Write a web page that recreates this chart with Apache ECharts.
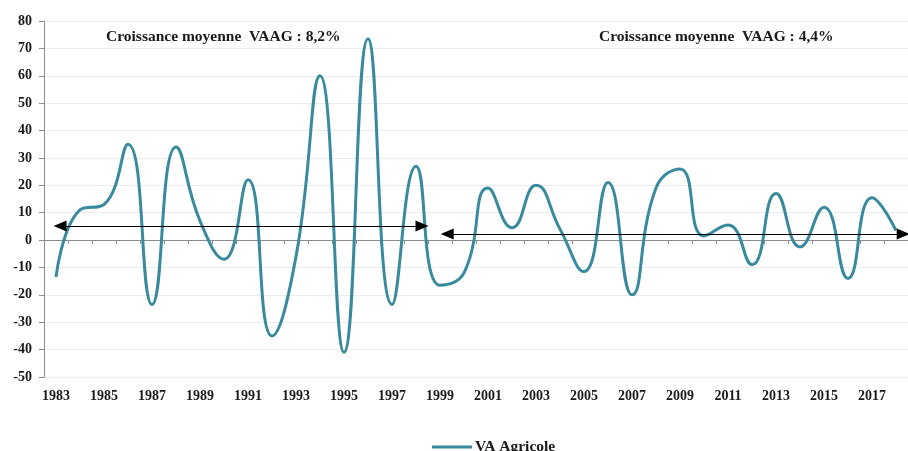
<!DOCTYPE html>
<html>
<head>
<meta charset="utf-8">
<script src="https://cdn.jsdelivr.net/npm/echarts@6/dist/echarts.min.js"></script>
<style>
  html, body { margin: 0; padding: 0; background: #fff; }
  #chart { width: 908px; height: 451px; }
</style>
</head>
<body>
<div id="chart"></div>
<script>
const years = [];
for (let y = 1983; y <= 2018; y++) years.push(String(y));

const vaAgricole = [
  -13.5, 11, 13, 35, -23.5, 34, 7, -7, 22, -35,
  -6, 60, -41, 73.5, -23.5, 27, -16.5, -12, 19, 4.5,
  20, 4, -11.5, 21, -20, 19, 26, 1.5, 5.5, -9,
  17, -2.5, 12, -14, 15.5, 3.5
];

// average growth arrows: [start year, end year, level]
const arrow1 = [1983.17, 1998.25, 5.1];
const arrow2 = [1999.3, 2018.3, 2.2];

const notes = [
  { text: "Croissance moyenne  VAAG : 8,2%", left: 106, top: 29 },
  { text: "Croissance moyenne  VAAG : 4,4%", left: 599, top: 29 }
];

const FONT = "'Liberation Serif', 'DejaVu Serif', serif";
const TEAL = "#388a9c";

const chart = echarts.init(document.getElementById("chart"), null, { renderer: "canvas" });

chart.setOption({
  animation: false,
  grid: { left: 44, top: 21, right: -7, bottom: 74, containLabel: false },
  legend: {
    data: ["VA Agricole"],
    left: 427,
    top: 434,
    icon: "rect",
    itemWidth: 40,
    itemHeight: 3,
    itemGap: 4,
    textStyle: { fontFamily: FONT, fontWeight: "bold", fontSize: 15.5, color: "#1a1a1a", padding: [0, 0, 0, -2] }
  },
  graphic: notes.map(n => ({
    type: "text",
    left: n.left,
    top: n.top,
    style: { text: n.text, font: "bold 15.5px " + FONT, fill: "#1a1a1a" }
  })),
  xAxis: [
    {
      type: "category",
      data: years,
      boundaryGap: true,
      axisLine: { show: false, onZero: false },
      axisTick: { show: false },
      axisLabel: {
        interval: 1,
        margin: 12,
        fontFamily: FONT,
        fontWeight: "bold",
        fontSize: 14,
        color: "#1a1a1a"
      },
      splitLine: { show: false }
    },
    {
      type: "category",
      data: years,
      boundaryGap: true,
      position: "bottom",
      axisLine: { show: true, onZero: true, lineStyle: { color: "#8c8c8c", width: 1 } },
      axisTick: { show: true, length: 4, interval: 0, lineStyle: { color: "#8c8c8c" } },
      axisLabel: { show: false },
      splitLine: { show: false }
    },
    {
      type: "value",
      min: 1982.5,
      max: 2018.5,
      show: false
    }
  ],
  yAxis: {
    type: "value",
    min: -50,
    max: 80,
    interval: 10,
    axisLine: { show: true, lineStyle: { color: "#8c8c8c", width: 1 } },
    axisTick: { show: true, length: 5, lineStyle: { color: "#8c8c8c" } },
    axisLabel: {
      margin: 12,
      fontFamily: FONT,
      fontWeight: "bold",
      fontSize: 14,
      color: "#1a1a1a"
    },
    splitLine: { show: true, lineStyle: { color: "#ececec", width: 1 } }
  },
  series: [
    {
      name: "VA Agricole",
      type: "line",
      data: vaAgricole,
      smooth: 0.5,
      showSymbol: false,
      lineStyle: { color: TEAL, width: 3 },
      itemStyle: { color: TEAL },
      z: 3
    },
    {
      name: "arrows",
      type: "line",
      xAxisIndex: 2,
      data: [],
      silent: true,
      markLine: {
        silent: true,
        symbol: ["triangle", "triangle"],
        symbolSize: [11, 13],
        label: { show: false },
        lineStyle: { color: "#000", width: 1, type: "solid" },
        data: [
          [{ coord: [arrow1[0], arrow1[2]] }, { coord: [arrow1[1], arrow1[2]] }],
          [{ coord: [arrow2[0], arrow2[2]] }, { coord: [arrow2[1], arrow2[2]] }]
        ]
      },
      z: 4
    }
  ]
});
</script>
</body>
</html>
